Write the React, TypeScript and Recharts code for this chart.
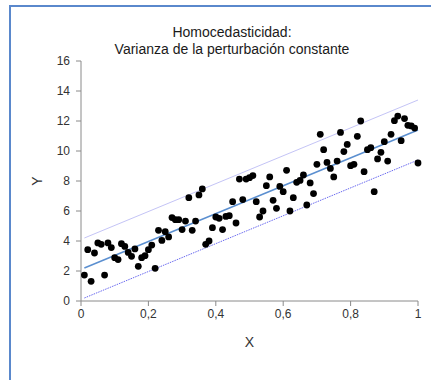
import React from 'react';
import { ScatterChart, Scatter, XAxis, YAxis } from 'recharts';

const xValues = [
  0.01, 0.02, 0.03, 0.04, 0.05, 0.06, 0.07, 0.08, 0.09, 0.1,
  0.11, 0.12, 0.13, 0.14, 0.15, 0.16, 0.17, 0.18, 0.19, 0.2,
  0.21, 0.22, 0.23, 0.24, 0.25, 0.26, 0.27, 0.28, 0.29, 0.3,
  0.31, 0.32, 0.33, 0.34, 0.35, 0.36, 0.37, 0.38, 0.39, 0.4,
  0.41, 0.42, 0.43, 0.44, 0.45, 0.46, 0.47, 0.48, 0.49, 0.5,
  0.51, 0.52, 0.53, 0.54, 0.55, 0.56, 0.57, 0.58, 0.59, 0.6,
  0.61, 0.62, 0.63, 0.64, 0.65, 0.66, 0.67, 0.68, 0.69, 0.7,
  0.71, 0.72, 0.73, 0.74, 0.75, 0.76, 0.77, 0.78, 0.79, 0.8,
  0.81, 0.82, 0.83, 0.84, 0.85, 0.86, 0.87, 0.88, 0.89, 0.9,
  0.91, 0.92, 0.93, 0.94, 0.95, 0.96, 0.97, 0.98, 0.99, 1.0,
];

const yValues = [
  1.73, 3.42, 1.31, 3.2, 3.87, 3.78, 1.73, 3.87, 3.56, 2.89,
  2.76, 3.82, 3.64, 3.24, 2.98, 3.47, 2.31, 2.89, 3.02, 3.42,
  3.73, 2.18, 4.71, 4.04, 4.62, 4.27, 5.56, 5.42, 5.42, 4.76,
  5.33, 6.89, 4.71, 5.33, 7.07, 7.47, 3.78, 4.0, 4.89, 5.6,
  5.51, 4.76, 5.64, 5.69, 6.62, 5.2, 8.13, 6.76, 8.13, 8.22,
  8.36, 6.62, 5.6, 6.0, 7.69, 8.27, 6.71, 6.18, 7.64, 7.29,
  8.71, 6.0, 6.89, 7.91, 8.04, 8.4, 6.4, 7.87, 7.16, 9.11,
  11.11, 10.09, 9.24, 8.84, 8.27, 9.33, 11.24, 9.96, 10.44, 9.02,
  9.11, 10.98, 12.0, 8.62, 10.09, 10.22, 7.29, 9.47, 9.91, 10.62,
  9.33, 11.11, 12.02, 12.33, 10.69, 12.16, 11.71, 11.67, 11.53, 9.2,
];

const lineX = [0.01, 1.0];
const fitY = [2.2, 11.4];
const upperY = [4.2, 13.4];
const lowerY = [0.2, 9.4];

const xTicks = [0, 0.2, 0.4, 0.6, 0.8, 1];
const yTicks = [0, 2, 4, 6, 8, 10, 12, 14, 16];

const titleLines = ['Homocedasticidad:', 'Varianza de la perturbación constante'];

const points = xValues.map((x, i) => ({ x, y: yValues[i] }));
const fitLine = lineX.map((x, i) => ({ x, y: fitY[i] }));
const upperLine = lineX.map((x, i) => ({ x, y: upperY[i] }));
const lowerLine = lineX.map((x, i) => ({ x, y: lowerY[i] }));

const FONT = '"Liberation Sans", Arial, sans-serif';

const Dot = (props: any) => {
  const { cx, cy } = props;
  if (cx == null || cy == null) return <g />;
  return <circle cx={cx} cy={cy} r={3.4} fill="#000" />;
};

const NoShape = () => <g />;

const fmt = (v: number) => String(v).replace('.', ',');

export default function App() {
  return (
    <div style={{ position: 'absolute', left: 0, top: 0, width: 435, height: 380, background: '#fff', overflow: 'hidden', fontFamily: FONT }}>
      <div style={{ position: 'absolute', left: 9, top: 5, width: 422, height: 380, borderTop: '2px solid #5a88cc', borderLeft: '2px solid #5a88cc', boxSizing: 'border-box' }} />
      <div style={{ position: 'absolute', left: 0, top: 24, width: 464, textAlign: 'center', fontSize: 14, lineHeight: '17px', color: '#1a1a1a' }}>
        {titleLines.map((t) => (
          <div key={t}>{t}</div>
        ))}
      </div>
      <div style={{ position: 'absolute', left: 0, top: 0 }}>
        <ScatterChart width={435} height={380} margin={{ top: 61, right: 17, bottom: 0, left: 0 }}>
          <XAxis
            type="number"
            dataKey="x"
            domain={[0, 1]}
            ticks={xTicks}
            tickFormatter={fmt}
            height={79}
            stroke="#8a8a8a"
            tickSize={5}
            tickMargin={3}
            tick={{ fill: '#333', fontSize: 12, fontFamily: FONT }}
            label={{ value: 'X', position: 'insideBottom', offset: 33, style: { fill: '#333', fontSize: 14, fontFamily: FONT } }}
          />
          <YAxis
            type="number"
            dataKey="y"
            domain={[0, 16]}
            ticks={yTicks}
            width={81}
            stroke="#8a8a8a"
            tickSize={5}
            tickMargin={6}
            tick={{ fill: '#333', fontSize: 12, fontFamily: FONT }}
            label={{ value: 'Y', angle: -90, position: 'insideLeft', offset: 37, style: { fill: '#333', fontSize: 14, fontFamily: FONT, textAnchor: 'middle' } }}
          />
          <Scatter data={upperLine} line={{ stroke: '#c4c4f6', strokeWidth: 1 }} shape={NoShape} isAnimationActive={false} />
          <Scatter data={lowerLine} line={{ stroke: '#6a6af0', strokeWidth: 1, strokeDasharray: '1.5 1' }} shape={NoShape} isAnimationActive={false} />
          <Scatter data={fitLine} line={{ stroke: '#5b8fd0', strokeWidth: 1.5 }} shape={NoShape} isAnimationActive={false} />
          <Scatter data={points} shape={Dot} isAnimationActive={false} />
        </ScatterChart>
      </div>
    </div>
  );
}
